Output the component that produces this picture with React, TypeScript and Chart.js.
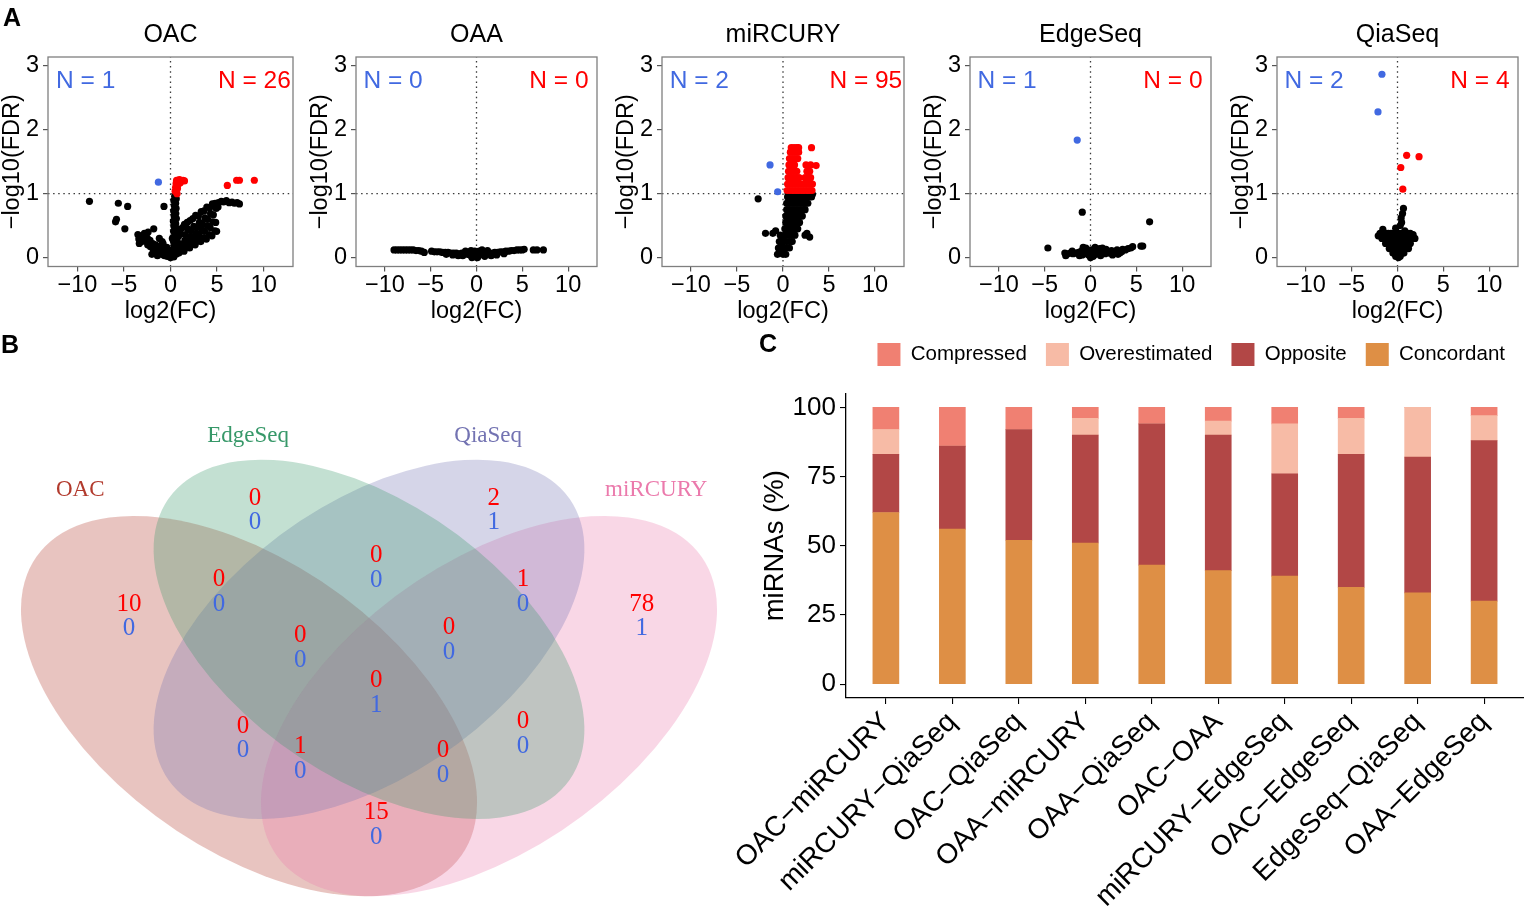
import React, { useEffect, useRef } from "react";
import { Chart, registerables } from "chart.js";

Chart.register(...registerables);

const SANS = "'Liberation Sans', Arial, Helvetica, sans-serif";
const SERIF = "'Liberation Serif', 'Times New Roman', Times, serif";
const BLUE = "#4169E1";
const RED = "#FF0000";
const MINUS = "\u2212";

/* ================= Panel A : volcano plots ================= */
const platforms = ["OAC", "OAA", "miRCURY", "EdgeSeq", "QiaSeq"];
const downCounts = [1, 0, 2, 1, 2];
const upCounts = [26, 0, 95, 0, 4];
const fcTicks = [-10, -5, 0, 5, 10];
const fdrTicks = [0, 1, 2, 3];
const fdrCutoff = 1;
const fcCutoff = 0;

const oacOther = [
  [-8.7, 0.88], [-5.6, 0.85], [-4.6, 0.8], [-5.9, 0.56], [-5.8, 0.6], [-4.9, 0.45], [-1.8, 0.45], [-0.7, 0.8],
  [-3.5, 0.36], [-3.4, 0.29], [-3.35, 0.22], [-3.1, 0.34], [-3.05, 0.25], [-2.8, 0.38], [-2.75, 0.27], [-2.5, 0.31],
  [-2.45, 0.2], [-2.2, 0.27], [-2.15, 0.17], [-1.9, 0.22], [-1.85, 0.12], [-1.6, 0.2], [-1.55, 0.1], [-1.3, 0.17],
  [-1.25, 0.08], [-1.0, 0.12], [-0.95, 0.05], [-0.7, 0.11], [-0.65, 0.03], [-0.4, 0.07], [-0.35, 0.02], [-0.1, 0.02],
  [-1.2, 0.3], [-0.8, 0.22], [-0.4, 0.16], [-2.0, 0.05], [-1.4, 0.03], [-0.2, 0.12], [-2.4, 0.4], [-0.9, 0.25],
  [0.0, 0.0], [0.35, 0.01], [0.6, 0.05], [0.3, 0.09], [0.62, 0.13], [0.38, 0.17], [0.55, 0.21], [0.32, 0.25],
  [0.64, 0.29], [0.4, 0.33], [0.58, 0.37], [0.33, 0.41], [0.61, 0.45], [0.37, 0.49], [0.56, 0.53], [0.31, 0.57],
  [0.63, 0.61], [0.39, 0.65], [0.57, 0.69], [0.34, 0.73], [0.6, 0.77], [0.41, 0.81], [0.55, 0.85], [0.36, 0.89],
  [0.62, 0.92], [0.45, 0.96], [0.55, 0.99], [0.15, 0.1], [0.2, 0.3],
  [0.9, 0.07], [0.95, 0.22], [0.85, 0.33], [1.0, 0.44], [1.15, 0.12], [1.25, 0.2], [1.1, 0.37], [1.3, 0.47],
  [1.45, 0.1], [1.55, 0.27], [1.6, 0.36], [1.5, 0.52], [1.75, 0.17], [1.85, 0.26], [1.9, 0.44], [1.8, 0.55],
  [2.05, 0.15], [2.15, 0.33], [2.2, 0.42], [2.1, 0.58], [2.35, 0.21], [2.45, 0.3], [2.5, 0.49], [2.4, 0.61],
  [2.65, 0.2], [2.75, 0.38], [2.8, 0.47], [2.7, 0.66], [2.95, 0.26], [3.05, 0.35], [3.1, 0.55], [3.0, 0.65],
  [3.25, 0.25], [3.35, 0.44], [3.4, 0.53], [3.3, 0.72], [3.55, 0.31], [3.65, 0.41], [3.7, 0.62], [3.6, 0.73],
  [3.85, 0.29], [3.95, 0.5], [4.0, 0.6], [3.9, 0.79], [4.15, 0.36], [4.25, 0.47], [4.3, 0.69], [4.2, 0.78],
  [4.45, 0.34], [4.55, 0.56], [4.6, 0.67], [4.5, 0.84], [4.75, 0.42], [4.85, 0.55], [4.9, 0.77], [4.8, 0.85],
  [5.1, 0.79], [5.15, 0.86], [5.45, 0.88], [5.7, 0.87], [6.0, 0.89], [6.3, 0.86], [6.6, 0.87], [6.85, 0.85],
  [7.15, 0.86], [7.4, 0.84], [4.95, 0.41],
];
const oacUp = [
  [0.5, 1.04], [0.55, 1.1], [0.6, 1.16], [0.65, 1.21], [0.75, 1.08], [0.8, 1.14], [0.85, 1.2], [0.95, 1.22],
  [1.05, 1.17], [1.1, 1.21], [1.2, 1.2], [1.35, 1.21], [1.5, 1.2], [0.7, 1.0], [6.1, 1.13], [7.1, 1.21], [7.4, 1.21], [9.0, 1.21],
];
const oacDown = [[-1.3, 1.18]];

const oaaOther = [
  [-9.0, 0.12], [-8.7, 0.12], [-8.4, 0.12], [-8.1, 0.12], [-7.8, 0.12], [-7.5, 0.12], [-7.2, 0.12], [-6.9, 0.12],
  [-6.6, 0.11], [-6.3, 0.11], [-6.0, 0.1], [-5.7, 0.08], [-4.9, 0.1], [-4.6, 0.09], [-4.3, 0.09], [-4.0, 0.09],
  [-3.7, 0.08], [-3.4, 0.08], [-3.1, 0.08], [-2.8, 0.07], [-2.5, 0.07], [-2.2, 0.07], [-1.9, 0.06], [-1.6, 0.07],
  [-1.3, 0.06], [-1.0, 0.05], [-0.7, 0.04], [-0.4, 0.03], [-0.1, 0.01], [0.2, 0.02], [0.5, 0.05], [0.8, 0.06],
  [1.1, 0.06], [1.4, 0.07], [1.7, 0.07], [2.0, 0.08], [2.3, 0.08], [2.6, 0.09], [2.9, 0.09], [3.2, 0.1],
  [3.5, 0.1], [3.8, 0.11], [4.1, 0.11], [4.4, 0.12], [4.7, 0.12], [5.0, 0.12], [5.2, 0.13], [6.2, 0.12],
  [6.6, 0.12], [7.3, 0.12], [-1.5, 0.03], [-1.2, 0.1], [-0.9, 0.08], [-0.6, 0.11], [-0.3, 0.07], [0, 0.05],
  [0.3, 0.1], [0.6, 0.12], [0.9, 0.02], [1.2, 0.11], [-0.5, 0.0], [0.1, 0.0], [-2.0, 0.03], [1.6, 0.03],
  [2.2, 0.04], [-2.6, 0.04], [-3.3, 0.05], [3.0, 0.06], [0.4, 0.08], [-0.2, 0.1],
];
const oaaUp: number[][] = [];
const oaaDown: number[][] = [];

const mirOther = [
  [-2.7, 0.92], [-1.9, 0.38], [-1.1, 0.38], [-0.8, 0.42], [2.9, 0.32], [2.6, 0.38], [2.4, 0.35],
  [0.0, 0.05], [0.3, 0.05], [0.1, 0.15], [0.4, 0.15], [0.7, 0.15], [0.1, 0.25], [0.4, 0.25], [0.7, 0.25], [1.0, 0.25],
  [0.2, 0.35], [0.5, 0.35], [0.8, 0.35], [1.1, 0.35], [1.3, 0.35], [0.2, 0.45], [0.5, 0.45], [0.8, 0.45],
  [1.1, 0.45], [1.4, 0.45], [1.6, 0.45], [0.3, 0.55], [0.6, 0.55], [0.9, 0.55], [1.2, 0.55], [1.5, 0.55],
  [1.8, 0.55], [0.3, 0.65], [0.6, 0.65], [0.9, 0.65], [1.2, 0.65], [1.5, 0.65], [1.8, 0.65], [2.1, 0.65],
  [0.4, 0.75], [0.7, 0.75], [1.0, 0.75], [1.3, 0.75], [1.6, 0.75], [1.9, 0.75], [2.2, 0.75], [2.4, 0.75],
  [0.4, 0.85], [0.7, 0.85], [1.0, 0.85], [1.3, 0.85], [1.6, 0.85], [1.9, 0.85], [2.2, 0.85], [2.5, 0.85],
  [2.7, 0.85], [0.5, 0.95], [0.8, 0.95], [1.1, 0.95], [1.4, 0.95], [1.7, 0.95], [2.0, 0.95], [2.3, 0.95],
  [2.6, 0.95], [2.9, 0.95], [3.1, 0.95], [3.2, 0.99], [0.6, 0.99],
  [-0.3, 0.08], [-0.5, 0.15], [-0.4, 0.25], [-0.2, 0.2], [-0.6, 0.05], [-0.1, 0.3], [-0.3, 0.35],
];
const mirUp = [
  [0.45, 1.05], [0.75, 1.05], [1.05, 1.05], [1.35, 1.05], [1.65, 1.05], [1.95, 1.05], [2.25, 1.05], [2.55, 1.05],
  [2.85, 1.05], [3.15, 1.05], [0.5, 1.15], [0.8, 1.15], [1.1, 1.15], [1.4, 1.15], [1.7, 1.15], [2.0, 1.15],
  [2.3, 1.15], [2.6, 1.15], [2.9, 1.15], [3.2, 1.15], [0.55, 1.25], [0.85, 1.25], [1.15, 1.25], [1.45, 1.25],
  [1.75, 1.25], [2.4, 1.25], [2.7, 1.25], [3.0, 1.25], [0.6, 1.35], [0.9, 1.35], [1.2, 1.35], [1.5, 1.35],
  [2.6, 1.35], [2.9, 1.35], [0.65, 1.45], [0.95, 1.45], [1.25, 1.45], [2.5, 1.45], [3.0, 1.45], [3.6, 1.44],
  [0.7, 1.55], [1.0, 1.55], [1.3, 1.55], [1.6, 1.55], [0.8, 1.65], [1.1, 1.65], [1.4, 1.65], [1.7, 1.65],
  [0.9, 1.72], [1.2, 1.72], [1.5, 1.72], [1.7, 1.72], [3.1, 1.72],
];
const mirDown = [[-1.41, 1.45], [-0.58, 1.03]];

const edgeOther = [
  [-0.9, 0.71], [6.45, 0.56], [-4.65, 0.15], [5.5, 0.18], [5.7, 0.18],
  [-2.8, 0.07], [-2.5, 0.06], [-2.2, 0.07], [-1.9, 0.06], [-1.6, 0.07], [-1.3, 0.08], [-1.0, 0.1], [-0.8, 0.16],
  [-0.6, 0.06], [-0.4, 0.1], [-0.2, 0.04], [0, 0.0], [0.2, 0.06], [0.4, 0.1], [0.6, 0.05], [0.8, 0.09],
  [1.0, 0.14], [1.2, 0.07], [1.4, 0.1], [1.6, 0.06], [1.8, 0.09], [2.0, 0.07], [2.3, 0.11], [2.6, 0.08],
  [2.9, 0.12], [3.2, 0.07], [3.5, 0.13], [3.8, 0.12], [4.1, 0.14], [4.4, 0.15], [4.6, 0.17], [-2.0, 0.1],
  [-1.2, 0.03], [-0.5, 0.15], [0.1, 0.12], [0.5, 0.16], [1.1, 0.03], [1.7, 0.13], [2.4, 0.04], [3.0, 0.05],
  [3.4, 0.09], [-0.9, 0.04], [0.3, 0.02], [-2.7, 0.03], [1.3, 0.15],
];
const edgeUp: number[][] = [];
const edgeDown = [[-1.45, 1.84]];

const qiaOther = [
  [0.65, 0.77], [0.55, 0.69], [0.4, 0.62], [0.45, 0.55], [0.3, 0.5],
  [-2.1, 0.34], [-1.6, 0.44], [-0.2, 0.46], [0.8, 0.42],
  [-1.9, 0.38], [-1.6, 0.38], [-1.3, 0.38], [-1.0, 0.38], [-0.7, 0.38], [-0.4, 0.38], [-0.1, 0.38], [0.2, 0.38],
  [0.5, 0.38], [0.8, 0.38], [1.1, 0.38], [1.4, 0.38], [1.7, 0.36],
  [-1.7, 0.3], [-1.4, 0.3], [-1.1, 0.3], [-0.8, 0.3], [-0.5, 0.3], [-0.2, 0.3], [0.1, 0.3], [0.4, 0.3],
  [0.7, 0.3], [1.0, 0.3], [1.3, 0.3], [1.6, 0.3], [1.9, 0.3],
  [-1.3, 0.22], [-1.0, 0.22], [-0.7, 0.22], [-0.4, 0.22], [-0.1, 0.22], [0.2, 0.22], [0.5, 0.22], [0.8, 0.22],
  [1.1, 0.22], [1.4, 0.22],
  [-0.9, 0.14], [-0.6, 0.14], [-0.3, 0.14], [0.0, 0.14], [0.3, 0.14], [0.6, 0.14], [0.9, 0.14], [1.2, 0.14],
  [-0.5, 0.07], [-0.2, 0.07], [0.1, 0.07], [0.4, 0.07], [0.7, 0.07], [-0.2, 0.02], [0.1, 0.0], [0.3, 0.02],
];
const qiaUp = [[1.0, 1.6], [2.35, 1.58], [0.36, 1.41], [0.58, 1.07]];
const qiaDown = [[-1.7, 2.87], [-2.13, 2.28]];

const volcanoOther = [oacOther, oaaOther, mirOther, edgeOther, qiaOther];
const volcanoUp = [oacUp, oaaUp, mirUp, edgeUp, qiaUp];
const volcanoDown = [oacDown, oaaDown, mirDown, edgeDown, qiaDown];

/* ================= Panel B : Venn ================= */
const vennSets = ["OAC", "EdgeSeq", "QiaSeq", "miRCURY"];
const vennRegions = [
  "OAC", "EdgeSeq", "QiaSeq", "miRCURY", "OAC&EdgeSeq", "EdgeSeq&QiaSeq", "QiaSeq&miRCURY",
  "OAC&EdgeSeq&QiaSeq", "EdgeSeq&QiaSeq&miRCURY", "OAC&EdgeSeq&QiaSeq&miRCURY", "OAC&QiaSeq",
  "OAC&QiaSeq&miRCURY", "OAC&EdgeSeq&miRCURY", "EdgeSeq&miRCURY", "OAC&miRCURY",
];
const vennUp = [10, 0, 2, 78, 0, 0, 1, 0, 0, 0, 0, 1, 0, 0, 15];
const vennDown = [0, 0, 1, 1, 0, 0, 0, 0, 0, 1, 0, 0, 0, 0, 0];

/* ================= Panel C : stacked bars ================= */
const pairs = [
  "OAC" + MINUS + "miRCURY", "miRCURY" + MINUS + "QiaSeq", "OAC" + MINUS + "QiaSeq", "OAA" + MINUS + "miRCURY",
  "OAA" + MINUS + "QiaSeq", "OAC" + MINUS + "OAA", "miRCURY" + MINUS + "EdgeSeq", "OAC" + MINUS + "EdgeSeq",
  "EdgeSeq" + MINUS + "QiaSeq", "OAA" + MINUS + "EdgeSeq",
];
const concordant = [62, 56, 52, 51, 43, 41, 39, 35, 33, 30];
const opposite = [21, 30, 40, 39, 51, 49, 37, 48, 49, 58];
const overestimated = [9, 0, 0, 6, 0, 5, 18, 13, 18, 9];
const compressed = [8, 14, 8, 4, 6, 5, 6, 4, 0, 3];
const pctTicks = [0, 25, 50, 75, 100];

/* ================= layout / style ================= */
const boxLeft = [48, 356, 662, 970, 1277];
const boxRight = [293, 597, 904, 1211, 1518];
const vennGeom = {
  order: [0, 3, 2, 1],
  cx: [0.35, 0.5, 0.5, 0.65],
  cy: [0.47, 0.57, 0.57, 0.47],
  a: [0.35, 0.33, 0.33, 0.35],
  b: [0.2, 0.19, 0.19, 0.2],
  rot: [135, 135, 45, 45],
  rgb: ["178,58,45", "55,152,105", "115,115,178", "235,122,172"],
  setLabel: [[0.139, 0.794], [0.349, 0.875], [0.649, 0.875], [0.859, 0.794]],
  regionPos: [
    [0.2, 0.604], [0.3575, 0.763], [0.656, 0.763], [0.841, 0.604], [0.3125, 0.641], [0.509, 0.677],
    [0.6925, 0.641], [0.414, 0.557], [0.6, 0.569], [0.509, 0.4895], [0.3425, 0.4213], [0.414, 0.3905],
    [0.5925, 0.3845], [0.6925, 0.428], [0.509, 0.2916],
  ],
};

const fmtNum = (v: number) => (v < 0 ? MINUS + Math.abs(v) : String(v));

function Volcano({ i }: { i: number }) {
  const ref = useRef<HTMLCanvasElement | null>(null);
  const left = boxLeft[i] - 50;
  const width = boxRight[i] - boxLeft[i] + 58;
  const height = 330;
  useEffect(() => {
    const pts = (a: number[][]) => a.map(([x, y]) => ({ x, y }));
    const xMin = -13.15, xMax = 13.15, yMin = -0.14, yMax = 3.14;
    const decor = {
      id: "decor",
      afterDatasetsDraw(chart: any) {
        const { ctx, chartArea: a, scales } = chart;
        ctx.save();
        ctx.strokeStyle = "#7f7f7f";
        ctx.lineWidth = 1.3;
        ctx.strokeRect(a.left, a.top, a.right - a.left, a.bottom - a.top);
        ctx.font = `24.5px ${SANS}`;
        ctx.textBaseline = "middle";
        ctx.textAlign = "center";
        const ly = scales.y.getPixelForValue(2.76);
        ctx.fillStyle = BLUE;
        ctx.fillText("N = " + downCounts[i], scales.x.getPixelForValue(-9.1), ly);
        ctx.fillStyle = RED;
        ctx.fillText("N = " + upCounts[i], scales.x.getPixelForValue(9.0), ly);
        ctx.restore();
      },
    };
    const pointStyle = { pointRadius: 3.6, pointBorderWidth: 0, borderWidth: 0, pointHoverRadius: 3.6 };
    const lineStyle = {
      showLine: true, pointRadius: 0, borderColor: "#3a3a3a", borderWidth: 1.3, borderDash: [1.5, 3.6], order: 10,
    };
    const chart = new Chart(ref.current as HTMLCanvasElement, {
      type: "scatter",
      data: {
        datasets: [
          { data: pts(volcanoDown[i]), backgroundColor: BLUE, order: 1, ...pointStyle },
          { data: pts(volcanoUp[i]), backgroundColor: RED, order: 1, ...pointStyle },
          { data: pts(volcanoOther[i]), backgroundColor: "#000", order: 2, ...pointStyle },
          { data: [{ x: xMin, y: fdrCutoff }, { x: xMax, y: fdrCutoff }], ...lineStyle },
          { data: [{ x: fcCutoff, y: yMin }, { x: fcCutoff, y: yMax }], ...lineStyle },
        ],
      },
      options: {
        animation: false,
        responsive: false,
        events: [],
        layout: { padding: { left: 0, right: 8, top: 0, bottom: 0 } },
        plugins: {
          legend: { display: false },
          tooltip: { enabled: false },
          title: {
            display: true, text: platforms[i], color: "#000", fullSize: false,
            font: { family: SANS, size: 25, weight: "normal" }, padding: { top: 20, bottom: 7 },
          },
        },
        scales: {
          x: {
            type: "linear", min: xMin, max: xMax,
            afterBuildTicks: (s: any) => { s.ticks = fcTicks.map((v) => ({ value: v })); },
            afterFit: (s: any) => { s.height = 63.5; },
            ticks: { callback: (v: any) => fmtNum(Number(v)), font: { family: SANS, size: 23.5 }, color: "#000", padding: 0, maxRotation: 0 },
            grid: { drawOnChartArea: false, drawTicks: true, tickLength: 5, color: "#555", lineWidth: 1.2 },
            border: { display: false },
            title: { display: true, text: "log2(FC)", color: "#000", font: { family: SANS, size: 23.5 }, padding: { top: 0, bottom: 4 } },
          },
          y: {
            type: "linear", min: yMin, max: yMax,
            afterBuildTicks: (s: any) => { s.ticks = fdrTicks.map((v) => ({ value: v })); },
            afterFit: (s: any) => { s.width = 50; },
            ticks: { callback: (v: any) => fmtNum(Number(v)), font: { family: SANS, size: 23.5 }, color: "#000", padding: 4 },
            grid: { drawOnChartArea: false, drawTicks: true, tickLength: 5, color: "#555", lineWidth: 1.2 },
            border: { display: false },
            title: { display: true, text: MINUS + "log10(FDR)", color: "#000", font: { family: SANS, size: 23.5 }, padding: { top: 0, bottom: 0 } },
          },
        },
      } as any,
      plugins: [decor],
    } as any);
    return () => chart.destroy();
  }, [i]);
  return (
    <canvas ref={ref} width={width} height={height}
      style={{ position: "absolute", left, top: 0, width, height }} />
  );
}

function Venn() {
  const ref = useRef<HTMLCanvasElement | null>(null);
  const W = 740, H = 583;
  useEffect(() => {
    const venn = {
      id: "venn",
      afterDraw(chart: any) {
        const { ctx, scales } = chart;
        const X = scales.x, Y = scales.y;
        const sx = X.getPixelForValue(1) - X.getPixelForValue(0);
        const sy = Y.getPixelForValue(0) - Y.getPixelForValue(1);
        const g = vennGeom;
        ctx.save();
        g.order.forEach((k) => {
          ctx.save();
          ctx.translate(X.getPixelForValue(g.cx[k]), Y.getPixelForValue(g.cy[k]));
          ctx.scale(sx, -sy);
          ctx.rotate((g.rot[k] * Math.PI) / 180);
          ctx.beginPath();
          ctx.ellipse(0, 0, g.a[k], g.b[k], 0, 0, Math.PI * 2);
          ctx.restore();
          ctx.fillStyle = `rgba(${g.rgb[k]},0.3)`;
          ctx.fill();
        });
        ctx.textAlign = "center";
        ctx.textBaseline = "middle";
        ctx.font = `23px ${SERIF}`;
        vennSets.forEach((name, k) => {
          ctx.fillStyle = `rgb(${g.rgb[k]})`;
          ctx.fillText(name, X.getPixelForValue(g.setLabel[k][0]), Y.getPixelForValue(g.setLabel[k][1]));
        });
        ctx.font = `25px ${SERIF}`;
        vennRegions.forEach((_, r) => {
          const px = X.getPixelForValue(g.regionPos[r][0]);
          const py = Y.getPixelForValue(g.regionPos[r][1]);
          ctx.fillStyle = RED;
          ctx.fillText(String(vennUp[r]), px, py - 12.25);
          ctx.fillStyle = BLUE;
          ctx.fillText(String(vennDown[r]), px, py + 12.25);
        });
        ctx.restore();
      },
    };
    const chart = new Chart(ref.current as HTMLCanvasElement, {
      type: "scatter",
      data: { datasets: [] },
      options: {
        animation: false, responsive: false, events: [],
        layout: { padding: 0 },
        plugins: { legend: { display: false }, tooltip: { enabled: false } },
        scales: {
          x: { type: "linear", display: false, min: 0.03875, max: 0.96375 },
          y: { type: "linear", display: false, min: 0.1597, max: 1.0337 },
        },
      } as any,
      plugins: [venn],
    } as any);
    return () => chart.destroy();
  }, []);
  return (
    <canvas ref={ref} width={W} height={H}
      style={{ position: "absolute", left: 0, top: 330, width: W, height: H }} />
  );
}

function Bars() {
  const ref = useRef<HTMLCanvasElement | null>(null);
  const L = 700, T = 324, W = 824, H = 589;
  useEffect(() => {
    const padLegend = {
      id: "padLegend",
      beforeLayout(chart: any) {
        const lg = chart.legend;
        if (lg && !lg.__padded) {
          const orig = lg.fit.bind(lg);
          lg.fit = function () { orig(); this.height += 17.5; };
          lg.__padded = true;
        }
      },
    };
    const mk = (label: string, vals: number[], color: string) => ({
      label,
      data: vals.map((v, i) => ({ x: i, y: v })),
      backgroundColor: color, borderColor: color, borderWidth: 0, barThickness: 26,
    });
    const chart = new Chart(ref.current as HTMLCanvasElement, {
      type: "bar",
      data: {
        datasets: [
          mk("Concordant", concordant, "#DE8F45"),
          mk("Opposite", opposite, "#B24746"),
          mk("Overestimated", overestimated, "#F7BBA6"),
          mk("Compressed", compressed, "#F08072"),
        ],
      },
      options: {
        animation: false, responsive: false, events: [],
        layout: { padding: 0 },
        plugins: {
          tooltip: { enabled: false },
          legend: {
            display: true, position: "top", align: "end", reverse: true,
            labels: { boxWidth: 23, boxHeight: 23, padding: 19, color: "#000", font: { family: SANS, size: 20.5 } },
          },
        },
        scales: {
          x: {
            type: "linear", min: -0.6, max: 9.6, offset: false, stacked: true,
            afterBuildTicks: (s: any) => { s.ticks = pairs.map((_, k) => ({ value: k })); },
            afterFit: (s: any) => { s.height = 215; },
            ticks: {
              callback: (v: any) => pairs[Number(v)], autoSkip: false, maxRotation: 45, minRotation: 45,
              color: "#000", font: { family: SANS, size: 28 }, padding: 2,
            },
            grid: { drawOnChartArea: false, offset: false, drawTicks: true, tickLength: 6, color: "#000", lineWidth: 1.1 },
            border: { display: true, color: "#000", width: 1.3 },
          },
          y: {
            type: "linear", min: -5, max: 105, stacked: true,
            afterBuildTicks: (s: any) => { s.ticks = pctTicks.map((v) => ({ value: v })); },
            afterFit: (s: any) => { s.width = 146; },
            ticks: { color: "#000", font: { family: SANS, size: 26 }, padding: 4 },
            grid: { drawOnChartArea: false, drawTicks: true, tickLength: 6, color: "#000", lineWidth: 1.1 },
            border: { display: true, color: "#000", width: 1.3 },
            title: { display: true, text: "miRNAs (%)", color: "#000", font: { family: SANS, size: 27.5 }, padding: { top: 58.5, bottom: 0 } },
          },
        },
      } as any,
      plugins: [padLegend],
    } as any);
    return () => chart.destroy();
  }, []);
  return (
    <canvas ref={ref} width={W} height={H}
      style={{ position: "absolute", left: L, top: T, width: W, height: H }} />
  );
}

const letter = (left: number, top: number): React.CSSProperties => ({
  position: "absolute", left, top, fontFamily: SANS, fontWeight: "bold", fontSize: 25, lineHeight: "25px", color: "#000",
});

export default function App() {
  return (
    <div style={{ position: "absolute", left: 0, top: 0, width: 1524, height: 913, background: "#fff", overflow: "hidden" }}>
      {platforms.map((p, i) => (<Volcano key={p} i={i} />))}
      <Venn />
      <Bars />
      <div style={letter(3, 5)}>A</div>
      <div style={letter(1, 332)}>B</div>
      <div style={letter(759, 331)}>C</div>
    </div>
  );
}
